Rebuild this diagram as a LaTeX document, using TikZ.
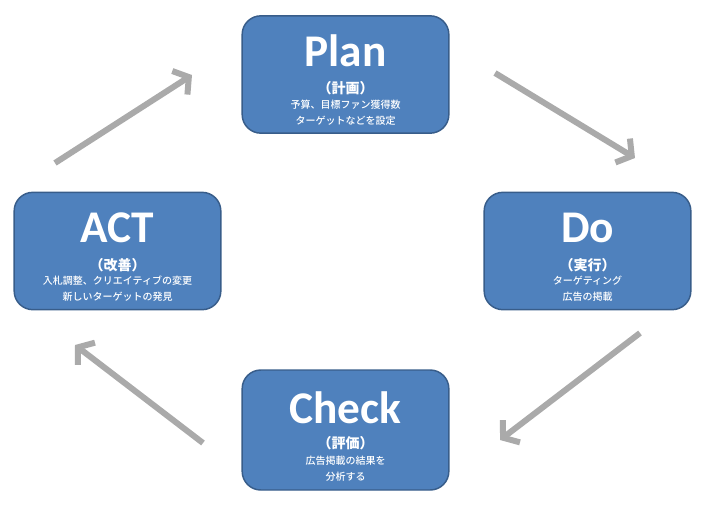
\documentclass[tikz,border=0pt]{standalone}
\usepackage{fontspec}
\setmainfont{Carlito}
\newfontfamily\jpfont{Noto Sans CJK JP}
\newfontfamily\jpmedfont{Noto Sans CJK JP Medium}
\usetikzlibrary{arrows.meta}

\definecolor{boxblue}{RGB}{79,129,189}
\definecolor{boxedge}{RGB}{56,93,138}
\definecolor{arrowgray}{RGB}{170,170,170}

\tikzset{
  phasebox/.style={draw=boxedge, line width=1.1pt, fill=boxblue, rounded corners=14pt,
    minimum width=155pt, minimum height=88pt, inner sep=0pt},
  phasetitle/.style={text=white, font=\fontsize{34}{36}\selectfont\bfseries, inner sep=0.75pt},
  phasesub/.style={text=white, font=\jpfont\bfseries\fontsize{10.5}{12}\selectfont, inner sep=0.75pt},
  phasenote/.style={text=white, font=\jpmedfont\fontsize{7.5}{12}\selectfont, align=center, inner sep=0.75pt},
  cyclearrow/.style={draw=arrowgray, line width=4.5pt,
    -{Straight Barb[length=8pt,width=21pt]}}
}

\begin{document}
\begin{tikzpicture}[x=0.75pt,y=0.75pt,yscale=-1,xscale=1]
\useasboundingbox (0,0) rectangle (705,529);

% Plan
\node [phasebox] (plan) at (345.5,74.5) {};
\node [phasetitle] (plantitle) at (345.5,51) {Plan};
\node [phasesub] (plansub) at (345.5,88.5) {（計画）};
\node [phasenote] (plannote) at (345.5,112.5) {予算、目標ファン獲得数\\ターゲットなどを設定};

% Do
\node [phasebox] (do) at (587.5,251) {};
\node [phasetitle] (dotitle) at (587.5,228) {Do};
\node [phasesub] (dosub) at (587.5,265.5) {（実行）};
\node [phasenote] (donote) at (587.5,289) {ターゲティング\\広告の掲載};

% Check
\node [phasebox, minimum height=90pt] (check) at (345.5,430) {};
\node [phasetitle] (checktitle) at (345.5,408) {Check};
\node [phasesub] (checksub) at (345.5,443.5) {（評価）};
\node [phasenote] (checknote) at (345.5,468.5) {広告掲載の結果を\\分析する};

% ACT
\node [phasebox] (act) at (117.5,251) {};
\node [phasetitle] (acttitle) at (117.5,228) {ACT};
\node [phasesub] (actsub) at (117.5,265.5) {（改善）};
\node [phasenote] (actnote) at (117.5,289) {入札調整、クリエイティブの変更\\新しいターゲットの発見};

% arrow ends
\coordinate (a1s) at (55,163);
\coordinate (a1e) at (192,75);
\coordinate (a2s) at (495,73);
\coordinate (a2e) at (635,158);
\coordinate (a3s) at (640,333);
\coordinate (a3e) at (500,440);
\coordinate (a4s) at (203,443);
\coordinate (a4e) at (75,345);

\draw [cyclearrow] (a1s) -- (a1e);
\draw [cyclearrow] (a2s) -- (a2e);
\draw [cyclearrow] (a3s) -- (a3e);
\draw [cyclearrow] (a4s) -- (a4e);

\end{tikzpicture}
\end{document}
